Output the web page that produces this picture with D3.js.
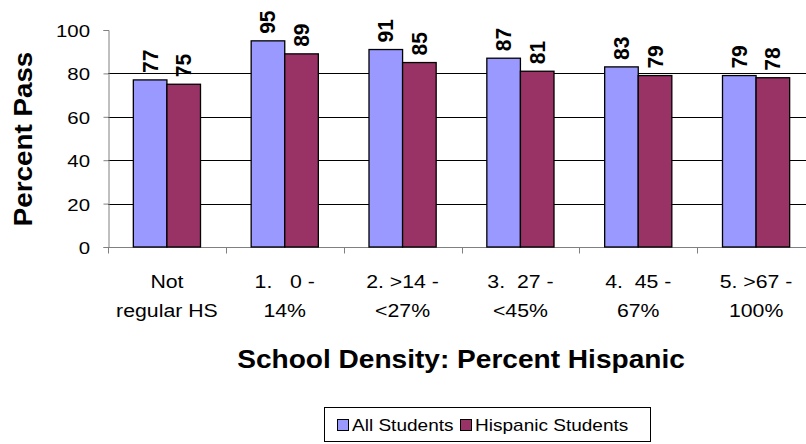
<!DOCTYPE html>
<html><head><meta charset="utf-8">
<script src="https://cdn.jsdelivr.net/npm/d3@7"></script>
<style>body{margin:0;background:#fff}svg{display:block;font-family:"Liberation Sans",Arial,sans-serif}text{white-space:pre}</style>
</head><body><svg id="c" width="806" height="444"></svg>
<script>
const categories = [["Not","regular HS"],["1.   0 -","14%"],["2. >14 -","<27%"],["3.  27 -","<45%"],["4.  45 -","67%"],["5. >67 -","100%"]];
const seriesNames = ["All Students","Hispanic Students"];
const allStudents = [77,95,91,87,83,79];
const hispanicStudents = [75,89,85,81,79,78];
const yTicks = [0,20,40,60,80,100];
const colors = ["#9999FF","#993366"];

const svg = d3.select("#c");
const pL = 108, pR = 815, pT = 30, pB = 247;
const x = d3.scaleBand().domain(d3.range(categories.length)).range([pL,pR]).paddingInner(0).paddingOuter(0);
const y = d3.scaleLinear().domain([0,100]).range([pB,pT]);
const bw = x.bandwidth()*0.285;

function label(parent, tx, ty, sx, txt, size, anchor, weight){
  const gg = parent.append("g").attr("transform",`translate(${tx},${ty}) scale(${sx},1)`);
  gg.append("text").attr("text-anchor",anchor).attr("font-size",size).attr("font-weight",weight||"normal").text(txt);
  return gg;
}

// gridlines
svg.append("g").selectAll("line").data(yTicks.filter(d=>d>0 && d<100)).join("line")
  .attr("x1",pL).attr("x2",806).attr("y1",d=>Math.round(y(d))+0.5).attr("y2",d=>Math.round(y(d))+0.5)
  .attr("stroke","#000").attr("stroke-width",1);

// y axis
const ya = svg.append("g").attr("transform",`translate(${pL+0.5},0)`)
  .call(d3.axisLeft(y).tickValues(yTicks).tickSize(5).tickFormat(""));
ya.select(".domain").attr("stroke","#808080");
ya.selectAll(".tick line").attr("stroke","#808080");
const yl = svg.append("g");
yTicks.forEach(t=>label(yl, 90, y(t)+7, 1.2, String(t), 17, "end"));

// x axis
const xa = svg.append("g").attr("transform",`translate(0,${pB+0.5})`);
xa.append("line").attr("x1",pL).attr("x2",806).attr("stroke","#808080");
xa.selectAll("line.t").data(d3.range(categories.length+1)).join("line").attr("class","t")
  .attr("x1",i=>Math.round(pL+i*x.step())+0.5).attr("x2",i=>Math.round(pL+i*x.step())+0.5)
  .attr("y1",0).attr("y2",6).attr("stroke","#808080");

const data = categories.map((c,i)=>({i, vals:[allStudents[i],hispanicStudents[i]]}));
const g = svg.append("g").selectAll("g").data(data).join("g");
g.selectAll("rect").data(d=>d.vals.map((v,s)=>({i:d.i,s,v}))).join("rect")
  .attr("x",d=>x(d.i)+x.bandwidth()/2 - bw + d.s*bw)
  .attr("y",d=>y(d.v)).attr("width",bw).attr("height",d=>pB-y(d.v))
  .attr("fill",d=>colors[d.s]).attr("stroke","#000").attr("stroke-width",1.3);
g.selectAll("text").data(d=>d.vals.map((v,s)=>({i:d.i,s,v}))).join("text")
  .attr("transform",d=>`translate(${x(d.i)+x.bandwidth()/2 - bw + d.s*bw + bw/2 + 7.5},${y(d.v)-7}) rotate(-90) scale(1.05,1.08)`)
  .attr("font-size",20).attr("font-weight","bold").text(d=>d.v);

// category labels
const cg = svg.append("g");
categories.forEach((c,i)=>{
  const cx = x(i)+x.bandwidth()/2;
  label(cg, cx, 288, 1.15, c[0], 18.5, "middle");
  label(cg, cx, 317, 1.15, c[1], 18.5, "middle");
});

// axis titles
label(svg, 461, 368, 1.08, "School Density: Percent Hispanic", 26, "middle", "bold");
svg.append("g").attr("transform","translate(32,139) rotate(-90) scale(1.07,1)")
  .append("text").attr("text-anchor","middle").attr("font-size",26).attr("font-weight","bold").text("Percent Pass");

// legend
const lg = svg.append("g");
lg.append("rect").attr("x",324.5).attr("y",407.5).attr("width",326).attr("height",34).attr("fill","#fff").attr("stroke","#000");
const items = [{n:seriesNames[0],c:colors[0],x:337},{n:seriesNames[1],c:colors[1],x:460}];
items.forEach(d=>{
  lg.append("rect").attr("x",d.x+0.5).attr("y",419.5).attr("width",11).attr("height",11).attr("fill",d.c).attr("stroke","#000");
  label(lg, d.x+15, 431, 1.12, d.n, 17, "start");
});
</script></body></html>
